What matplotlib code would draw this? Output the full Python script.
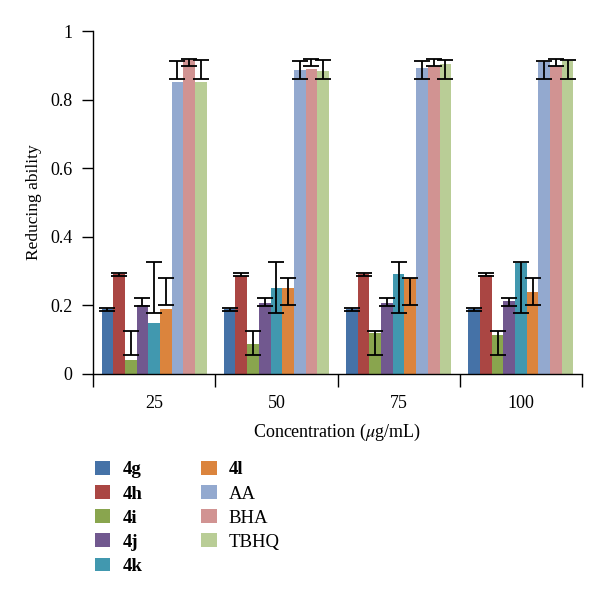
import matplotlib.pyplot as plt
import numpy as np

# ---------------------- data ----------------------
concentrations = ['25', '50', '75', '100']
series_names = ['4g', '4h', '4i', '4j', '4k', '4l', 'AA', 'BHA', 'TBHQ']
bold_names = ['4g', '4h', '4i', '4j', '4k', '4l']

v_4g = [0.188, 0.188, 0.188, 0.188]
v_4h = [0.290, 0.285, 0.290, 0.287]
v_4i = [0.040, 0.088, 0.120, 0.113]
v_4j = [0.201, 0.208, 0.208, 0.212]
v_4k = [0.149, 0.249, 0.290, 0.322]
v_4l = [0.188, 0.249, 0.279, 0.240]
v_AA = [0.853, 0.887, 0.893, 0.909]
v_BHA = [0.915, 0.890, 0.899, 0.897]
v_TBHQ = [0.851, 0.883, 0.904, 0.912]
values = [v_4g, v_4h, v_4i, v_4j, v_4k, v_4l, v_AA, v_BHA, v_TBHQ]

# error bar limits (same for every concentration in the source figure)
err_low = [0.184, 0.284, 0.055, 0.198, 0.178, 0.200, 0.860, 0.897, 0.860]
err_high = [0.192, 0.295, 0.125, 0.222, 0.327, 0.279, 0.912, 0.919, 0.916]

colors = ['#4572A7', '#AA4643', '#89A54E', '#71588F', '#4198AF',
          '#DB843D', '#93A9CF', '#D19392', '#B9CD96']

# ---------------------- plot ----------------------
plt.rcParams['font.family'] = ['Liberation Serif', 'DejaVu Serif']
plt.rcParams['mathtext.fontset'] = 'stix'

fig = plt.figure(figsize=(6.0, 5.99), dpi=100)
ax = fig.add_axes([0.155, 0.376, 0.815, 0.572])

n = len(series_names)
group_w = 0.86
bar_w = group_w / n
x = np.arange(len(concentrations))

for i, (name, vals) in enumerate(zip(series_names, values)):
    pos = x - group_w / 2 + bar_w * (i + 0.5)
    ax.bar(pos, vals, width=bar_w, color=colors[i], label=name, zorder=2)
    center = (err_low[i] + err_high[i]) / 2
    half = (err_high[i] - err_low[i]) / 2
    ax.errorbar(pos, [center] * len(pos), yerr=half, fmt='none',
                ecolor='black', elinewidth=1.3, capsize=6, capthick=1.3, zorder=3)

ax.set_ylim(0, 1)
ax.set_xlim(-0.5, len(concentrations) - 0.5)
ax.set_yticks([0, 0.2, 0.4, 0.6, 0.8, 1.0])
ax.set_yticklabels(['0', '0.2', '0.4', '0.6', '0.8', '1'])
ax.set_xticks(x)
ax.set_xticklabels(concentrations)
ax.set_xticks(np.arange(len(concentrations) + 1) - 0.5, minor=True)
ax.tick_params(axis='x', which='major', length=0, pad=15.5, labelsize=13)
ax.tick_params(axis='x', which='minor', length=9, direction='out', width=1)
ax.tick_params(axis='y', length=8, width=1, direction='out', labelsize=13, pad=7)

for s in ['top', 'right']:
    ax.spines[s].set_visible(False)
ax.spines['left'].set_linewidth(1)
ax.spines['bottom'].set_linewidth(1)

ax.set_ylabel('Reducing ability', fontsize=12.5, labelpad=6)
ax.set_xlabel(r'Concentration ($\mu$g/mL)', fontsize=13, labelpad=7)

leg = fig.legend(loc='upper left', bbox_to_anchor=(0.145, 0.243), ncol=2,
                 frameon=False, fontsize=13.5, handlelength=0.85, handleheight=0.75,
                 handletextpad=0.65, columnspacing=3.1, labelspacing=0.36,
                 borderaxespad=0)
for t in leg.get_texts():
    if t.get_text() in bold_names:
        t.set_fontweight('bold')

fig.savefig('out.png', dpi=100)
